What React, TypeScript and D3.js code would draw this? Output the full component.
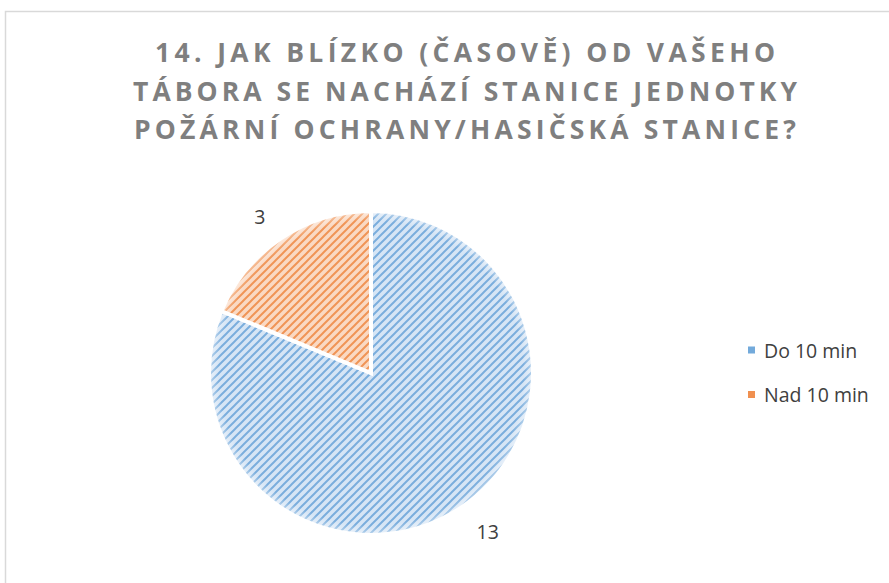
import React from "react";
import * as d3 from "d3";

const titleLines = [
  "14. JAK BLÍZKO (ČASOVĚ) OD VAŠEHO",
  "TÁBORA SE NACHÁZÍ STANICE JEDNOTKY",
  "POŽÁRNÍ OCHRANY/HASIČSKÁ STANICE?",
];
const categories = ["Do 10 min", "Nad 10 min"];
const values = [13, 3];
const colors = ["#5B9BD5", "#ED7D31"];
const bgColors = ["#d6e5f5", "#fad9c3"];

const W = 889;
const H = 583;
const cx = 371;
const cy = 373;
const R = 162;
const titleWidths = [620, 664, 662];

export default function App() {
  const pie = d3
    .pie<number>()
    .sort(null)
    .value((d) => d)
    .startAngle(0)
    .endAngle(2 * Math.PI);
  const arcs = pie(values);
  const arc = d3.arc<d3.PieArcDatum<number>>().innerRadius(0).outerRadius(R);
  const labelR = 190;

  return (
    <svg
      width={W}
      height={H}
      style={{ position: "fixed", left: 0, top: 0, background: "#fff" }}
    >
      <defs>
        {colors.map((c, i) => (
          <pattern
            key={i}
            id={`hatch${i}`}
            patternUnits="userSpaceOnUse"
            width={8}
            height={8}
          >
            <rect width={8} height={8} fill={bgColors[i]} />
            <path
              d="M-2,2 L2,-2 M0,8 L8,0 M6,10 L10,6"
              stroke={c}
              strokeWidth={2}
              opacity={0.75}
            />
          </pattern>
        ))}
        <radialGradient id="soft" cx={cx} cy={cy} r={R} gradientUnits="userSpaceOnUse">
          <stop offset="0.94" stopColor="#fff" stopOpacity={0} />
          <stop offset="1" stopColor="#fff" stopOpacity={0.5} />
        </radialGradient>
      </defs>
      <rect x={5.5} y={11.5} width={W + 20} height={H + 20} fill="none" stroke="#d9d9d9" strokeWidth={1.5} />
      <g
        fill="#7f7f7f"
        fontFamily="'Open Sans', Lato, sans-serif"
        fontWeight="bold"
        fontSize={26.5}
        textAnchor="middle"
      >
        {titleLines.map((t, i) => (
          <text
            key={i}
            x={465}
            y={62 + i * 38.5}
            textLength={titleWidths[i]}
            lengthAdjust="spacing"
          >
            {t}
          </text>
        ))}
      </g>
      <g transform={`translate(${cx},${cy})`}>
        {arcs.map((a, i) => (
          <path
            key={i}
            d={arc(a) || ""}
            fill={`url(#hatch${i})`}
            stroke="#fff"
            strokeWidth={4}
            strokeLinejoin="miter"
          />
        ))}
      </g>
      <circle cx={cx} cy={cy} r={R} fill="url(#soft)" />
      <g fontFamily="'Open Sans', sans-serif" fontSize={19.5} fill="#404040">
        {arcs.map((a, i) => {
          const mid = (a.startAngle + a.endAngle) / 2;
          const x = cx + Math.sin(mid) * labelR;
          const y = cy - Math.cos(mid) * labelR;
          return (
            <text
              key={i}
              x={x}
              y={y + 1}
              textAnchor={Math.sin(mid) > 0 ? "start" : "end"}
              dominantBaseline="central"
            >
              {values[i]}
            </text>
          );
        })}
      </g>
      <g fontFamily="'Open Sans', sans-serif" fontSize={19.5} fill="#404040">
        {categories.map((c, i) => (
          <g key={c} transform={`translate(748,${350 + i * 44.5})`}>
            <rect x={0} y={-3.5} width={7} height={7} fill={colors[i]} opacity={0.85} />
            <text x={16} y={0} dominantBaseline="central">
              {c}
            </text>
          </g>
        ))}
      </g>
    </svg>
  );
}
